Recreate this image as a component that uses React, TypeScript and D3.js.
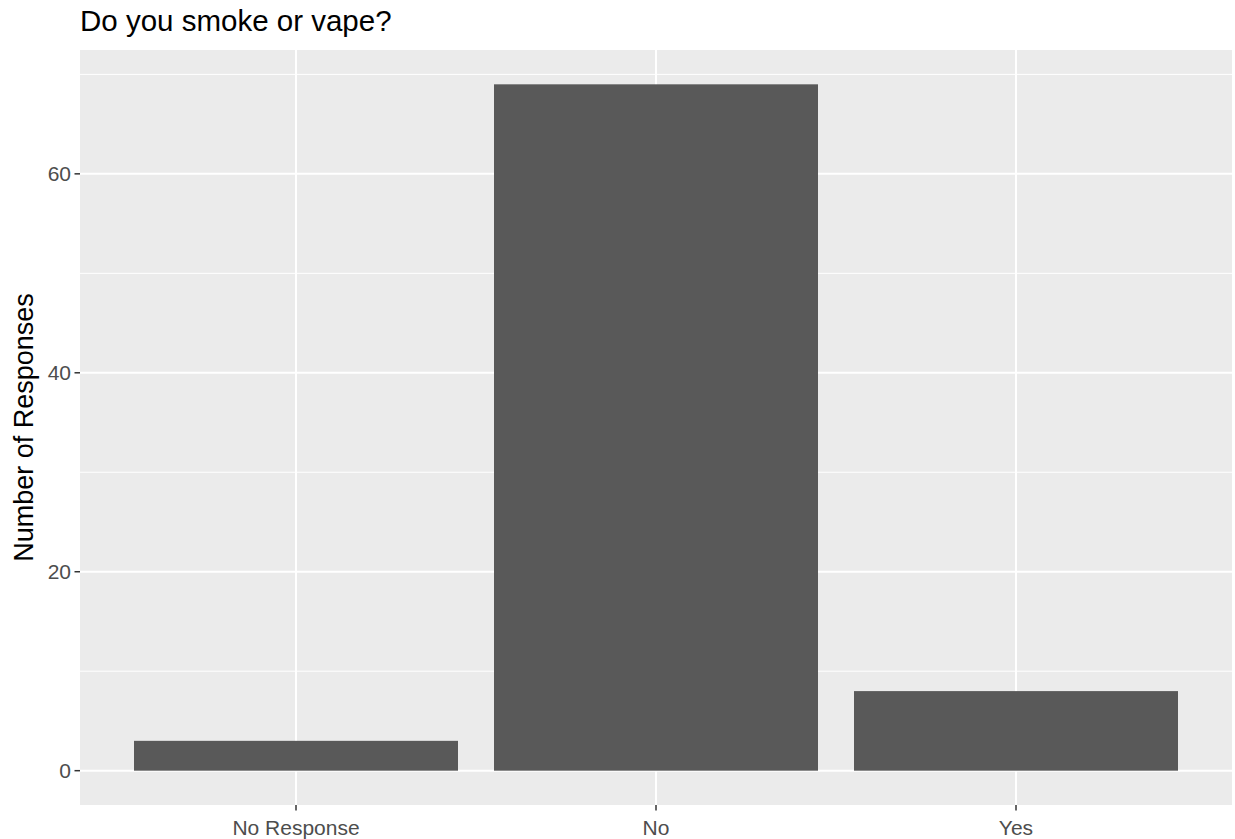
import React from "react";
import * as d3 from "d3";

const categories = ["No Response", "No", "Yes"];
const counts = [3, 69, 8];
const majorTicks = [0, 20, 40, 60];
const minorTicks = [10, 30, 50, 70];
const titleText = "Do you smoke or vape?";
const yTitle = "Number of Responses";

const W = 1235;
const H = 839;
const panel = { left: 80, right: 1232, top: 50, bottom: 805 };
const FONT = "'Liberation Sans', Arial, sans-serif";

export default function App() {
  const maxV = d3.max(counts) as number;
  const pad = maxV * 0.05;
  const y = d3.scaleLinear().domain([-pad, maxV + pad]).range([panel.bottom, panel.top]);
  // discrete axis with 0.6-unit expansion on each side (ggplot style)
  const x = d3
    .scalePoint<string>()
    .domain(categories)
    .range([panel.left, panel.right])
    .padding(0.6);
  const step = x.step();
  const bw = step * 0.9;

  return (
    <svg
      width={W}
      height={H}
      style={{ position: "absolute", left: 0, top: 0, display: "block" }}
      fontFamily={FONT}
    >
      <rect x={0} y={0} width={W} height={H} fill="#ffffff" />
      <rect
        x={panel.left}
        y={panel.top}
        width={panel.right - panel.left}
        height={panel.bottom - panel.top}
        fill="#EBEBEB"
      />
      {minorTicks.map((t) => (
        <line key={"mn" + t} x1={panel.left} x2={panel.right} y1={y(t)} y2={y(t)} stroke="#ffffff" strokeWidth={1} />
      ))}
      {majorTicks.map((t) => (
        <line key={"mj" + t} x1={panel.left} x2={panel.right} y1={y(t)} y2={y(t)} stroke="#ffffff" strokeWidth={2} />
      ))}
      {categories.map((c) => (
        <line key={"vx" + c} x1={x(c)} x2={x(c)} y1={panel.top} y2={panel.bottom} stroke="#ffffff" strokeWidth={2} />
      ))}
      {categories.map((c, i) => (
        <rect
          key={"b" + c}
          x={(x(c) as number) - bw / 2}
          y={y(counts[i])}
          width={bw}
          height={y(0) - y(counts[i])}
          fill="#595959"
        />
      ))}
      {majorTicks.map((t) => (
        <g key={"yt" + t}>
          <line x1={panel.left - 5.5} x2={panel.left} y1={y(t)} y2={y(t)} stroke="#333333" strokeWidth={1.5} />
          <text x={panel.left - 9} y={y(t)} dy="0.35em" textAnchor="end" fontSize={21} fill="#4D4D4D">
            {t}
          </text>
        </g>
      ))}
      {categories.map((c) => (
        <g key={"xt" + c}>
          <line x1={x(c)} x2={x(c)} y1={panel.bottom} y2={panel.bottom + 5.5} stroke="#333333" strokeWidth={1.5} />
          <text x={x(c)} y={835} textAnchor="middle" fontSize={21} fill="#4D4D4D">
            {c}
          </text>
        </g>
      ))}
      <text
        transform={`translate(33, ${(panel.top + panel.bottom) / 2}) rotate(-90)`}
        textAnchor="middle"
        fontSize={27}
        fill="#000000"
      >
        {yTitle}
      </text>
      <text x={panel.left} y={31} fontSize={29.5} fill="#000000">
        {titleText}
      </text>
    </svg>
  );
}
